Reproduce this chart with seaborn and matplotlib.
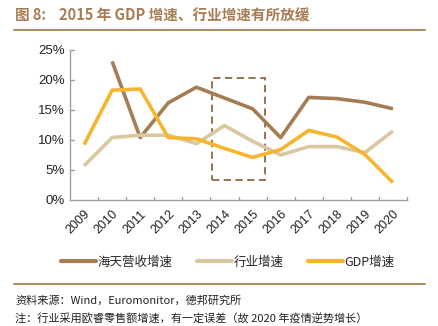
import numpy as np
import pandas as pd
import matplotlib
matplotlib.use("Agg")
import matplotlib.pyplot as plt
from matplotlib.patches import Rectangle
from matplotlib.lines import Line2D
import seaborn as sns

years = ["2009", "2010", "2011", "2012", "2013", "2014", "2015", "2016",
         "2017", "2018", "2019", "2020"]
haitian_growth = [np.nan, 23.1, 10.4, 16.2, 18.8, 17.0, 15.2, 10.4, 17.1, 16.9, 16.3, 15.2]
industry_growth = [5.7, 10.4, 10.8, 10.8, 9.4, 12.4, 9.8, 7.5, 8.9, 8.9, 7.9, 11.5]
gdp_growth = [9.2, 18.3, 18.5, 10.4, 10.2, 8.6, 7.1, 8.4, 11.6, 10.5, 7.6, 2.9]
series_names = ["海天营收增速", "行业增速", "GDP增速"]
series_colors = ["#A47D55", "#D9C7A0", "#F5B52E"]

sns.set_theme(style="white")
plt.rcParams["font.family"] = ["Noto Sans CJK SC", "DejaVu Sans"]
plt.rcParams["axes.unicode_minus"] = False

df = pd.DataFrame({
    "year": years * 3,
    "idx": list(range(len(years))) * 3,
    "value": haitian_growth + industry_growth + gdp_growth,
    "series": sum([[n] * len(years) for n in series_names], []),
})

fig = plt.figure(figsize=(4.38, 3.26), dpi=100)
ax = fig.add_axes([70 / 438, 1 - 200 / 326, 337 / 438, 150 / 326])

sns.lineplot(data=df, x="idx", y="value", hue="series", hue_order=series_names,
             palette=series_colors, linewidth=2.6, ax=ax, legend=False,
             solid_capstyle="butt")

ax.set_xlim(-0.5, len(years) - 0.5)
ax.set_ylim(0, 25)
ax.set_yticks([0, 5, 10, 15, 20, 25])
ax.set_yticklabels([f"{v}%" for v in [0, 5, 10, 15, 20, 25]], fontsize=9.5,
                   family=["Liberation Sans", "DejaVu Sans"], color="#222222")
ax.set_xticks(range(len(years)))
ax.set_xticklabels(years, rotation=45, ha="right", va="top", rotation_mode="anchor",
                   fontsize=9, family=["Liberation Sans", "DejaVu Sans"], color="#222222")
ax.tick_params(axis="x", length=0, pad=6)
ax.tick_params(axis="y", length=0, pad=4)
ax.set_xlabel("")
ax.set_ylabel("")

for s in ["top", "right"]:
    ax.spines[s].set_visible(False)
for s in ["left", "bottom"]:
    ax.spines[s].set_color("#A0A0A0")
    ax.spines[s].set_linewidth(1.0)

# inward ticks: y ticks at each level, x ticks on category boundaries
for v in [5, 10, 15, 20, 25]:
    ax.plot([-0.5, -0.5 + 0.13], [v, v], color="#A0A0A0", lw=1.0, clip_on=False)
for b in np.arange(0.5, len(years), 1.0):
    ax.plot([b, b], [0, 0.5], color="#A0A0A0", lw=1.0, clip_on=False)

# highlight box around 2014-2015
ax.add_patch(Rectangle((4.56, 3.4), 1.9, 16.9, fill=False, edgecolor="#8B6A46",
                       linestyle=(0, (4, 2.5)), linewidth=1.3))

# title block
fig.text(15 / 438, 1 - 16 / 326, "图 8:    2015 年 GDP 增速、行业增速有所放缓",
         fontsize=10.5, fontweight="bold", color="#A67C52", va="center", ha="left")
fig.add_artist(Line2D([14 / 438, 425 / 438], [1 - 30 / 326] * 2, color="#A67C52", lw=1.3))

# legend
handles = [Line2D([0], [0], color=c, lw=3) for c in series_colors]
fig.legend(handles, series_names, loc="center", bbox_to_anchor=(0.52, 1 - 262 / 326),
           ncol=3, frameon=False, fontsize=9, handlelength=2.8, handletextpad=0.1,
           columnspacing=2.0)

fig.add_artist(Line2D([14 / 438, 425 / 438], [1 - 284 / 326] * 2, color="#A67C52", lw=1.3))
fig.text(15 / 438, 1 - 300 / 326, "资料来源：Wind，Euromonitor，德邦研究所",
         fontsize=8, color="#222222", va="center", ha="left")
fig.text(15 / 438, 1 - 319 / 326, "注：行业采用欧睿零售额增速，有一定误差（故 2020 年疫情逆势增长）",
         fontsize=8, color="#222222", va="center", ha="left")

fig.savefig("out.png", dpi=100)
